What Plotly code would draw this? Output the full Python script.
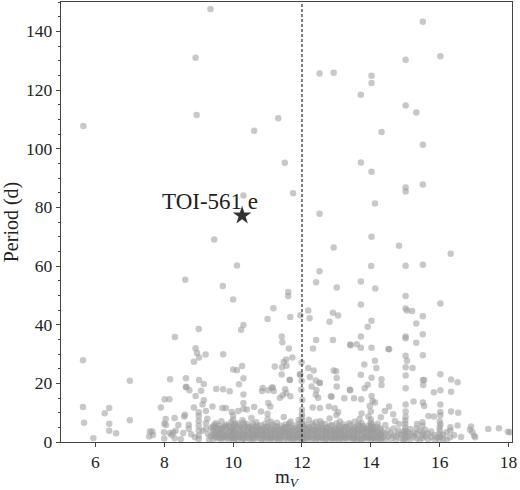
import plotly.graph_objects as go

# long-period / sparse systems (m_V, period in days)
upper_pts = [
    (5.65, 107.7), (5.64, 27.9), (7.0, 20.9), (8.17, 21.4), (8.31, 35.8), (8.61, 55.3),
    (8.91, 32.0), (8.95, 30.3), (8.86, 27.4), (9.01, 28.8), (9.20, 29.8), (9.0, 38.5),
    (8.63, 21.7), (9.01, 21.1), (8.91, 131.0), (8.94, 111.5), (9.34, 147.6), (9.45, 69.0),
    (10.61, 106.1), (10.30, 84.0), (10.11, 60.2), (9.70, 53.2), (10.0, 48.6), (10.23, 38.3),
    (10.30, 39.9), (9.71, 29.9), (10.0, 24.7), (10.11, 24.5), (10.26, 25.9), (10.30, 21.7),
    (11.31, 110.4), (11.50, 95.2), (11.74, 84.8), (11.60, 51.1), (11.60, 49.8), (11.17, 45.6),
    (11.00, 41.9), (11.66, 42.6), (11.95, 43.2), (11.41, 36.0), (11.43, 34.0), (11.62, 31.9),
    (11.72, 28.8), (11.47, 27.3), (11.54, 28.1), (11.21, 25.7), (11.42, 25.5), (11.55, 26.0),
    (11.41, 23.0), (11.65, 21.2), (11.95, 22.9), (11.99, 27.1), (11.94, 23.1), (11.99, 20.9),
    (12.18, 44.8), (12.22, 42.2), (12.80, 41.0), (12.90, 44.1), (13.05, 43.1), (13.71, 46.9),
    (14.02, 41.3), (13.91, 39.3), (12.41, 34.8), (12.32, 31.9), (12.90, 34.8), (13.40, 33.2),
    (13.71, 36.0), (13.71, 32.1), (14.02, 32.1), (14.51, 31.7), (14.12, 27.7), (14.16, 25.2),
    (13.81, 26.4), (12.92, 24.4), (12.18, 25.2), (12.34, 24.4), (13.01, 21.8), (12.51, 20.1),
    (13.71, 22.9), (14.31, 21.4), (13.59, 33.3), (13.41, 33.0), (12.99, 24.1), (12.23, 22.2),
    (12.40, 21.0), (12.52, 20.2), (14.02, 21.9),
    (12.51, 125.6), (12.92, 125.9), (14.02, 124.9), (14.02, 122.4), (13.71, 118.4),
    (15.01, 114.7), (15.32, 112.3), (14.31, 105.7), (15.51, 101.3), (13.71, 95.3),
    (14.02, 92.1), (15.01, 86.8), (15.01, 85.4), (15.51, 87.8), (14.12, 81.3), (12.51, 77.8),
    (14.02, 70.0), (12.92, 66.3), (14.82, 66.9), (16.32, 64.2), (12.51, 58.2), (14.01, 60.0),
    (15.01, 60.1), (15.51, 60.4), (12.41, 54.5), (13.01, 52.7), (13.71, 54.7), (14.13, 52.3),
    (15.01, 49.8), (16.02, 47.2), (15.51, 143.3), (16.02, 131.5), (15.01, 130.3),
    (15.01, 45.5), (15.05, 44.8), (15.20, 44.7), (15.51, 42.9), (15.32, 40.4), (15.01, 36.0),
    (15.01, 35.4), (15.51, 36.7), (15.32, 33.8), (15.51, 29.6), (16.02, 23.1), (16.33, 21.3),
    (16.52, 20.4), (14.53, 31.6), (15.01, 29.4), (15.05, 27.7), (15.01, 25.5), (15.21, 25.2),
    (15.51, 21.1), (15.55, 21.1), (15.01, 22.7),
]

# 10-20 d
mid_pts = [
    (5.64, 11.9), (6.40, 11.6), (7.90, 11.8), (8.01, 14.6), (8.15, 14.6), (8.63, 18.8),
    (8.64, 18.7), (8.73, 17.6), (8.91, 15.7), (9.07, 17.5), (9.15, 19.8), (8.86, 11.8),
    (9.0, 10.1), (9.11, 12.8), (9.15, 14.2), (9.21, 10.6),
    (9.51, 18.1), (9.71, 18.0), (9.90, 17.3), (9.40, 12.1), (9.69, 11.6), (9.79, 11.6),
    (10.30, 16.2), (10.30, 13.3), (10.30, 11.3), (10.15, 10.6), (9.96, 10.2), (10.17, 19.7),
    (10.86, 18.4), (11.02, 17.6), (11.15, 18.6), (11.18, 17.4), (11.02, 13.3), (11.08, 12.1),
    (11.12, 18.5), (10.84, 17.4), (11.64, 21.1), (10.61, 11.9), (10.81, 10.4), (10.40, 11.1),
    (11.51, 18.0), (11.54, 16.7), (11.44, 15.9), (11.36, 15.1), (11.66, 15.6), (11.98, 17.8),
    (12.01, 14.3), (12.28, 18.9), (12.42, 17.7), (12.40, 16.1), (12.47, 15.1), (12.31, 11.8),
    (12.52, 11.6), (12.78, 12.1), (12.86, 15.4), (12.95, 11.5), (13.05, 10.1), (13.01, 18.9),
    (13.23, 14.9), (13.39, 17.8), (13.51, 14.9), (12.84, 15.6), (13.40, 17.6),
    (13.72, 14.6), (14.02, 15.7), (14.05, 14.0), (13.97, 12.3), (14.12, 13.5), (14.41, 10.6),
    (14.53, 12.1), (14.31, 19.4), (13.91, 19.5), (13.82, 18.3),
    (15.01, 18.3), (15.52, 19.4), (15.83, 17.0), (16.02, 17.6), (16.33, 17.1), (15.24, 13.8),
    (15.01, 12.8), (16.02, 12.8), (16.33, 10.4), (16.54, 10.0), (16.02, 10.2), (15.51, 13.5),
    (15.55, 12.3), (15.01, 10.4),
]

# short periods outside the crowded band
low_pts = [
    (5.67, 6.6), (5.94, 1.3), (6.27, 9.8), (6.40, 6.2), (6.60, 3.0), (6.40, 3.8), (7.0, 7.4),
    (7.58, 3.6), (7.65, 3.6), (7.56, 1.9), (7.67, 2.4), (8.0, 6.2), (8.04, 7.8), (7.99, 3.3),
    (8.0, 1.2), (8.05, 5.8), (8.16, 3.1), (8.26, 3.2), (8.33, 3.8), (8.21, 2.4), (8.30, 1.3),
    (8.30, 8.2), (8.41, 5.8), (8.55, 3.1), (8.71, 5.9), (8.71, 4.5), (8.6, 9.3), (8.58, 8.7),
    (8.89, 1.6), (9.0, 8.9), (9.0, 7.2), (9.0, 5.5), (9.0, 3.8), (9.0, 2.1), (9.0, 1.0),
    (9.21, 6.4), (9.21, 4.5), (9.27, 2.7), (9.11, 3.8), (9.3, 0.8), (9.35, 2.0), (9.36, 4.9),
    (9.25, 7.9), (8.78, 2.6), (8.48, 0.9),
    (16.91, 5.3), (16.88, 4.2), (16.95, 3.3), (17.0, 2.1), (17.03, 1.6), (17.41, 4.4),
    (17.72, 4.7), (17.98, 3.5), (18.04, 3.3), (16.31, 5.0), (16.31, 3.9), (16.52, 5.6),
    (16.02, 6.0), (15.5, 6.7), (15.34, 6.1), (15.01, 8.6), (15.67, 8.9), (15.83, 8.7),
    (16.02, 9.1), (14.82, 6.1), (14.70, 7.2), (14.29, 8.4), (14.65, 9.5), (16.62, 1.7),
]

# crowded short-period band, one row per magnitude column
band_bright = [
    (9.42, [1.0, 2.6, 4.1, 5.3]), (9.5, [1.5, 3.2, 4.8, 6.4]), (9.58, [1.2, 2.2, 3.9, 5.6]),
    (9.66, [1.1, 2.9, 4.4, 7.1]), (9.73, [1.7, 3.6, 5.1]), (9.8, [1.9, 2.8, 4.6, 6.0]),
    (9.88, [0.9, 3.4, 5.5]), (9.95, [1.4, 2.5, 4.0, 6.8]),
    (10.0, [1.0, 2.0, 3.0, 4.3, 5.2, 7.6, 9.0]), (10.06, [1.2, 3.7, 5.8]),
    (10.13, [0.8, 2.4, 4.5, 6.3]), (10.2, [1.6, 3.3, 5.0]), (10.27, [1.1, 2.7, 4.2, 7.4]),
    (10.33, [1.3, 3.0, 5.6]), (10.4, [2.1, 3.9, 6.1]), (10.47, [1.0, 2.8, 4.6]),
    (10.53, [1.5, 3.5, 5.3, 8.2]), (10.6, [0.9, 2.3, 4.0]), (10.67, [1.8, 3.1, 5.0, 6.7]),
    (10.73, [1.2, 2.6, 4.4]), (10.8, [1.2, 3.8, 5.7]), (10.87, [2.0, 3.0, 4.8]),
]

band_mid = [
    (10.93, [0.8, 2.5, 4.1, 6.2]), (11.0, [1.4, 3.3, 5.4, 7.8, 9.6]), (11.07, [1.0, 2.2, 4.7]),
    (11.13, [1.7, 3.6, 5.9]), (11.2, [0.9, 2.8, 4.3]), (11.27, [1.3, 3.1, 5.1, 6.6]),
    (11.33, [1.1, 2.4, 4.0]), (11.4, [1.9, 3.7, 5.5]), (11.47, [0.8, 2.9, 4.5, 8.5]),
    (11.53, [1.5, 3.4, 6.0]), (11.6, [1.0, 2.1, 4.2, 5.3]), (11.67, [1.2, 3.0, 4.9, 7.0]),
    (11.73, [1.1, 2.6, 3.9]), (11.8, [1.8, 3.5, 5.6]), (11.87, [0.9, 2.3, 4.4]),
    (11.93, [1.4, 3.2, 5.2, 6.4]),
    (12.0, [0.9, 1.5, 2.5, 3.4, 4.4, 5.3, 6.2, 7.3, 8.4, 9.5, 11.0]),
    (12.07, [1.1, 2.9, 4.6]), (12.13, [1.0, 2.2, 3.8, 5.9]), (12.2, [1.6, 3.3, 5.0, 7.6]),
    (12.27, [0.9, 2.7, 4.3]), (12.33, [1.3, 3.6, 5.5]), (12.4, [1.0, 2.4, 4.1, 6.8]),
]

band_faint = [
    (12.47, [1.7, 3.0, 4.8]), (12.53, [0.8, 2.6, 5.3, 7.1]), (12.6, [1.4, 3.5, 4.5]),
    (12.67, [1.0, 2.2, 3.9, 6.1]), (12.73, [1.9, 3.2, 5.0]), (12.8, [0.9, 2.8, 4.3, 8.0]),
    (12.87, [1.2, 3.7, 5.7]), (12.93, [1.1, 2.3, 4.0]), (13.0, [1.5, 3.1, 4.7, 6.3, 9.2]),
    (13.07, [0.8, 2.5, 5.4]), (13.13, [1.8, 3.4, 4.2]), (13.2, [1.0, 2.0, 3.9, 6.0]),
    (13.27, [1.3, 3.0, 5.1]), (13.33, [1.1, 2.7, 4.5]), (13.4, [1.6, 3.6, 5.8]),
    (13.47, [0.9, 2.2, 4.1]), (13.53, [1.4, 3.3, 5.0, 6.9]), (13.6, [1.0, 2.8, 4.4]),
    (13.67, [1.1, 3.9, 5.5, 7.8]), (13.73, [0.8, 2.4, 3.5, 6.4, 9.7]), (13.8, [1.7, 3.0, 4.8]),
    (13.87, [1.2, 2.1, 4.0]), (13.93, [1.3, 3.4, 5.6, 8.7]),
    (14.0, [0.9, 1.9, 2.9, 4.2, 5.3, 6.6, 7.7, 10.4]), (14.07, [1.4, 3.6, 5.0]),
    (14.13, [1.0, 2.5, 4.3]), (14.2, [1.2, 3.1, 6.2]), (14.27, [0.9, 2.2, 4.7]),
]

# extra short-period systems sitting between the columns above
band_between = [
    (9.46, [2.0, 3.5, 5.9]), (9.62, [1.6, 4.7, 3.0]), (9.77, [1.2, 2.3, 5.4]),
    (9.92, [1.9, 3.8, 5.0]), (10.03, [1.5, 3.6, 6.1]), (10.17, [1.9, 3.0, 5.5]),
    (10.3, [1.0, 2.2, 4.8, 6.6]), (10.43, [1.4, 3.2, 5.0]), (10.57, [1.2, 2.5, 4.4, 6.2]),
    (10.7, [2.3, 3.6, 5.5]), (10.84, [1.0, 2.4, 4.1]), (10.97, [1.7, 3.5, 5.2]),
    (11.1, [1.3, 2.7, 4.1, 6.8]), (11.23, [1.8, 3.8, 5.4]), (11.37, [1.2, 3.1, 4.6]),
    (11.5, [2.2, 3.9, 5.1]), (11.63, [1.6, 3.3, 6.3]), (11.77, [1.0, 2.1, 4.8]),
    (11.9, [1.7, 2.9, 4.0, 7.5]), (12.03, [1.2, 3.0, 5.6]), (12.17, [1.5, 2.7, 4.5]),
    (12.3, [2.0, 3.9, 6.2]), (12.43, [1.3, 3.4, 5.2]), (12.57, [1.6, 4.0, 6.3]),
    (12.7, [1.1, 2.8, 4.7]), (12.83, [1.7, 3.4, 5.6]), (12.97, [1.3, 2.6, 4.1]),
    (13.1, [1.2, 3.0, 4.8, 7.0]), (13.23, [1.5, 2.6, 5.0]), (13.37, [1.9, 3.9, 6.4]),
    (13.5, [1.1, 2.5, 4.6]), (13.63, [1.7, 3.4, 5.9]), (13.77, [1.2, 4.3, 5.5]),
    (13.9, [1.8, 2.7, 4.6]), (14.03, [1.3, 3.7, 6.0]), (14.17, [1.7, 3.4, 5.2]),
    (14.3, [1.2, 2.7, 4.1]),
]

band_dim = [
    (14.35, [1.5, 3.2]), (14.42, [0.8, 2.6, 5.8]), (14.5, [1.9, 4.0]), (14.58, [1.1, 3.0]),
    (14.66, [2.3, 4.6]), (14.73, [0.7, 1.8]), (14.8, [2.9, 3.9]), (14.88, [1.3, 2.4]),
    (14.95, [0.6, 3.5]), (15.0, [1.0, 2.0, 3.0, 4.0, 5.0, 6.2, 7.3]), (15.08, [1.6, 3.3]),
    (15.15, [0.8, 2.5, 4.4]), (15.25, [1.9, 3.0]), (15.33, [1.2, 2.7, 4.6]),
    (15.42, [0.7, 3.8]), (15.5, [1.4, 2.3, 3.2, 5.5]), (15.58, [2.0, 4.2]),
    (15.66, [0.9, 2.9]), (15.75, [1.7, 3.6]), (15.85, [0.6, 2.4]), (15.92, [1.5]),
    (16.0, [0.8, 1.8, 2.8, 3.9, 5.0, 7.1]), (16.1, [1.2, 2.5]), (16.2, [0.7, 3.3]),
    (16.3, [1.6]), (16.42, [2.3]),
]

toi_mag = 10.26
toi_period = 77.2
toi_label = "TOI-561 e"
mag_cut = 12

mag_v = [p[0] for p in upper_pts + mid_pts + low_pts]
period = [p[1] for p in upper_pts + mid_pts + low_pts]
for col_mag, col_periods in band_bright + band_mid + band_faint + band_between + band_dim:
    for per in col_periods:
        mag_v.append(col_mag)
        period.append(per)

serif = "Liberation Serif"

fig = go.Figure()

fig.add_trace(go.Scatter(
    x=mag_v, y=period, mode="markers",
    marker=dict(color="rgb(155,155,155)", opacity=0.55, size=6.5, line=dict(width=0)),
    showlegend=False, hoverinfo="skip"
))

fig.add_trace(go.Scatter(
    x=[toi_mag], y=[toi_period], mode="markers",
    marker=dict(symbol="star", color="#333333", size=14, line=dict(width=0)),
    showlegend=False
))

fig.add_annotation(
    x=10.78, y=82, text=toi_label, showarrow=False,
    xanchor="right", yanchor="middle",
    font=dict(family=serif, size=23, color="#222222")
)

fig.add_vline(x=mag_cut, line=dict(color="black", width=1, dash="3px,2px"))

fig.update_layout(
    width=520, height=490,
    margin=dict(l=61, r=8, t=2, b=48),
    plot_bgcolor="white", paper_bgcolor="white",
    font=dict(family=serif, size=17.5, color="#222222"),
    xaxis=dict(
        range=[5, 18.1], dtick=2, tick0=0, automargin=False,
        showgrid=False, zeroline=False,
        showline=True, linecolor="#444444", linewidth=1.3, mirror=True,
        ticks="outside", ticklen=4, tickcolor="#444444",
        title=dict(text="m<sub><i>V</i></sub>", font=dict(size=19), standoff=0),
    ),
    yaxis=dict(
        range=[0, 150], dtick=20, tick0=0, automargin=False,
        showgrid=False, zeroline=False,
        showline=True, linecolor="#444444", linewidth=1.3, mirror=True,
        ticks="outside", ticklen=4, tickcolor="#444444",
        minor=dict(dtick=5, ticks="outside", ticklen=2, tickcolor="#444444"),
        title=dict(text="Period (d)", font=dict(size=20), standoff=6),
    ),
)

# page body has a default 8px margin; drop it so the figure sits at the top-left corner
fig.write_html("out.html", config={"displayModeBar": False},
               post_script="document.body.style.margin='0';")
